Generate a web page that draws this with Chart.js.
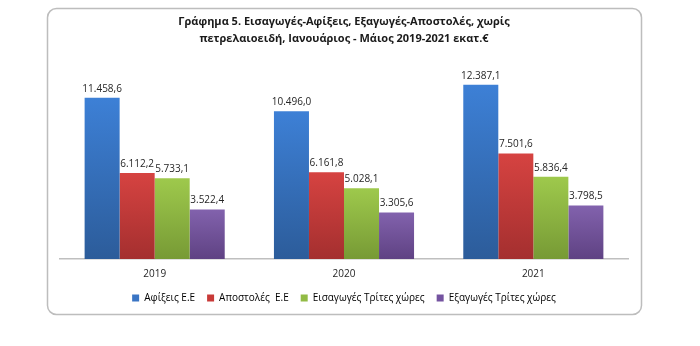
<!DOCTYPE html>
<html>
<head>
<meta charset="utf-8">
<script src="https://cdn.jsdelivr.net/npm/chart.js@4.4.1/dist/chart.umd.min.js"></script>
<style>
  html, body { margin: 0; padding: 0; background: #ffffff; }
  #wrap { width: 700px; height: 346px; position: relative; }
</style>
</head>
<body>
<div id="wrap"><canvas id="chart"></canvas></div>
<script>
// Εκατ. ευρώ, Ιανουάριος - Μάιος
const years = ['2019', '2020', '2021'];
const arrivalsEU = [11458.6, 10496.0, 12387.1];
const dispatchesEU = [6112.2, 6161.8, 7501.6];
const importsThird = [5733.1, 5028.1, 5836.4];
const exportsThird = [3522.4, 3305.6, 3798.5];
const seriesNames = ['Αφίξεις Ε.Ε', 'Αποστολές  Ε.Ε', 'Εισαγωγές Τρίτες χώρες', 'Εξαγωγές Τρίτες χώρες'];
const titleLines = ['Γράφημα 5. Εισαγωγές-Αφίξεις, Εξαγωγές-Αποστολές, χωρίς', 'πετρελαιοειδή, Ιανουάριος - Μάιος 2019-2021 εκατ.€'];

const FONT = "'Open Sans', 'Noto Sans', sans-serif";

// light (top) and dark (bottom) tone of each series
const palette = [
  { top: '#3d80d6', bottom: '#2c5c9a', solid: '#3a75c4' },
  { top: '#d64341', bottom: '#a42f2f', solid: '#c83a38' },
  { top: '#9ec94c', bottom: '#779a35', solid: '#92bb45' },
  { top: '#8262ad', bottom: '#5f4283', solid: '#7453a0' }
];

function fmt(v) {
  const parts = v.toFixed(1).split('.');
  parts[0] = parts[0].replace(/\B(?=(\d{3})+(?!\d))/g, '.');
  return parts[0] + ',' + parts[1];
}

function barGradient(idx) {
  return function (ctx) {
    const chart = ctx.chart;
    const c = palette[idx];
    if (ctx.type !== 'data' || !chart.chartArea || !chart.scales.y) return c.solid;
    const y = chart.scales.y;
    const yTop = y.getPixelForValue(ctx.raw);
    const yBot = y.getPixelForValue(0);
    if (!isFinite(yTop) || !isFinite(yBot) || yTop === yBot) return c.solid;
    const g = chart.ctx.createLinearGradient(0, yTop, 0, yBot);
    g.addColorStop(0, c.top);
    g.addColorStop(1, c.bottom);
    return g;
  };
}

// rounded frame around the whole chart
const framePlugin = {
  id: 'frame',
  beforeDraw(chart) {
    const c = chart.ctx;
    c.save();
    c.fillStyle = '#ffffff';
    c.fillRect(0, 0, chart.width, chart.height);
    const x = 47.5, y = 8.5, w = 594, h = 306, r = 9;
    c.beginPath();
    c.moveTo(x + r, y);
    c.lineTo(x + w - r, y);
    c.arcTo(x + w, y, x + w, y + r, r);
    c.lineTo(x + w, y + h - r);
    c.arcTo(x + w, y + h, x + w - r, y + h, r);
    c.lineTo(x + r, y + h);
    c.arcTo(x, y + h, x, y + h - r, r);
    c.lineTo(x, y + r);
    c.arcTo(x, y, x + r, y, r);
    c.closePath();
    c.strokeStyle = '#bdbdbd';
    c.lineWidth = 1.5;
    c.stroke();
    c.restore();
  }
};

// value labels above the bars
const valueLabels = {
  id: 'valueLabels',
  afterDatasetsDraw(chart) {
    const c = chart.ctx;
    c.save();
    c.font = "10px " + FONT;
    c.fillStyle = '#262626';
    c.textAlign = 'center';
    c.textBaseline = 'bottom';
    chart.data.datasets.forEach((ds, i) => {
      const meta = chart.getDatasetMeta(i);
      meta.data.forEach((bar, j) => {
        c.fillText(fmt(ds.data[j]), bar.x, bar.y - 4);
      });
    });
    c.restore();
  }
};

const seriesData = [arrivalsEU, dispatchesEU, importsThird, exportsThird];

new Chart(document.getElementById('chart'), {
  type: 'bar',
  data: {
    labels: years,
    datasets: seriesData.map((d, i) => ({
      label: seriesNames[i],
      data: d,
      backgroundColor: barGradient(i),
      borderWidth: 0,
      categoryPercentage: 0.74,
      barPercentage: 1.0
    }))
  },
  options: {
    responsive: true,
    maintainAspectRatio: false,
    animation: false,
    layout: { padding: { left: 60, right: 72, top: 0, bottom: 33 } },
    scales: {
      x: {
        grid: { display: false, drawTicks: false },
        border: { display: true, color: '#bfbfbf', width: 1.5 },
        ticks: { color: '#262626', font: { family: FONT, size: 10 }, padding: 9 },
        afterFit(scale) { scale.height = 22; }
      },
      y: {
        display: false,
        min: 0,
        max: 14000
      }
    },
    plugins: {
      title: {
        display: true,
        text: titleLines,
        color: '#1a1a1a',
        font: { family: FONT, size: 11, weight: 'bold', lineHeight: 1.545 },
        padding: { top: 13, bottom: 15 }
      },
      legend: {
        position: 'bottom',
        labels: {
          color: '#262626',
          font: { family: FONT, size: 10 },
          boxWidth: 7,
          boxHeight: 7,
          padding: 12,
          generateLabels(chart) {
            return chart.data.datasets.map((ds, i) => ({
              text: ds.label,
              fillStyle: palette[i].solid,
              strokeStyle: palette[i].solid,
              lineWidth: 0,
              datasetIndex: i,
              hidden: false
            }));
          }
        }
      },
      tooltip: { enabled: false }
    }
  },
  plugins: [framePlugin, valueLabels]
});
</script>
</body>
</html>
